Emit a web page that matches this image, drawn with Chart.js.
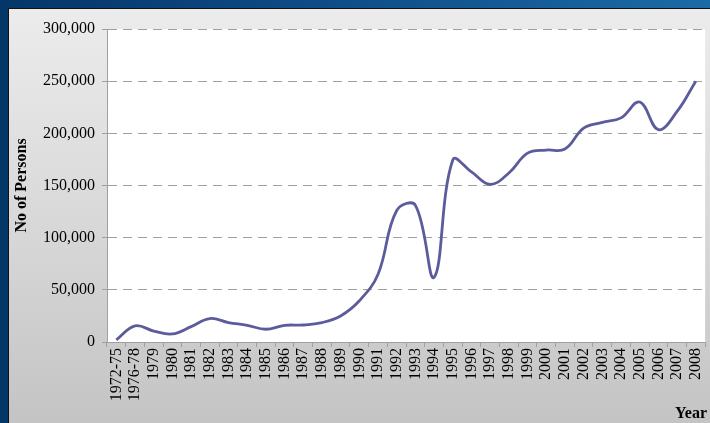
<!DOCTYPE html>
<html>
<head>
<meta charset="utf-8">
<script src="https://cdn.jsdelivr.net/npm/chart.js@4.4.1/dist/chart.umd.min.js"></script>
<style>
  html, body { margin: 0; padding: 0; }
  body {
    width: 710px; height: 423px; overflow: hidden; position: relative;
    background: linear-gradient(to right, #053668 0%, #0f4c86 45%, #1b6ba6 100%);
  }
  #panel {
    position: absolute; left: 8px; top: 8px; width: 720px; height: 430px;
    border-left: 1px solid #111; border-top: 1px solid #111;
    background: linear-gradient(to bottom, #ececec 0%, #d6d6d6 55%, #c2c2c2 100%);
  }
  #chartBox { position: absolute; left: 0; top: 0; width: 716px; height: 423px; }
</style>
</head>
<body>
<div id="panel"></div>
<div id="chartBox"><canvas id="personsChart" width="716" height="423"></canvas></div>
<script>
// Categories (x axis) and number of persons per year
const years = ['1972-75', '1976-78', '1979', '1980', '1981', '1982', '1983', '1984',
    '1985', '1986', '1987', '1988', '1989', '1990', '1991', '1992', '1993', '1994',
    '1995', '1996', '1997', '1998', '1999', '2000', '2001', '2002', '2003', '2004',
    '2005', '2006', '2007', '2008'];
const persons = [2000, 15500, 10500, 7700, 14700, 22500, 18600, 16000,
    12200, 16000, 16300, 18600, 25000, 39500, 65000, 126000, 131000, 62000,
    174500, 163000, 151000, 162000, 181000, 184000, 185000, 205000, 210500, 214800,
    230000, 203500, 221000, 250000];

// y axis ticks
const yMin = 0;
const yMax = 300000;
const yStep = 50000;

const serif = "'Liberation Serif', 'Times New Roman', serif";

// white plot area behind the grid
const plotBackground = {
    id: 'plotBackground',
    beforeDraw(chart) {
        const { ctx: c, chartArea: a } = chart;
        c.save();
        c.fillStyle = '#ffffff';
        c.fillRect(a.left, a.top, a.right - a.left, a.bottom - a.top);
        c.restore();
    }
};

// "Year" caption sits at the bottom right corner
const yearLabel = {
    id: 'yearLabel',
    afterDraw(chart) {
        const c = chart.ctx;
        c.save();
        c.font = 'bold 16px ' + serif;
        c.fillStyle = '#000';
        c.textAlign = 'right';
        c.textBaseline = 'alphabetic';
        c.fillText('Year', 707, 418);
        c.restore();
    }
};

const ctx = document.getElementById('personsChart').getContext('2d');

const personsChart = new Chart(ctx, {
    type: 'line',
    data: {
        labels: years,
        datasets: [
            {
                label: 'No of Persons',
                data: persons,
                borderColor: '#5c5c9c',
                borderWidth: 2.8,
                tension: 0.4,
                pointRadius: 0,
                fill: false
            }
        ]
    },
    options: {
        responsive: false,
        animation: false,
        devicePixelRatio: 1,
        layout: { padding: { top: 29, left: 0, right: 0, bottom: 0 } },
        plugins: {
            legend: { display: false },
            tooltip: { enabled: false }
        },
        scales: {
            x: {
                type: 'category',
                offset: true,
                afterFit: (scale) => { scale.height = 81; },
                grid: {
                    offset: true,
                    drawOnChartArea: false,
                    drawTicks: true,
                    tickLength: 5,
                    color: '#a0a0a0'
                },
                border: { color: '#a0a0a0', width: 1 },
                ticks: {
                    autoSkip: false,
                    minRotation: 90,
                    maxRotation: 90,
                    padding: 1,
                    color: '#000',
                    font: { family: serif, size: 16 }
                }
            },
            y: {
                min: yMin,
                max: yMax,
                afterFit: (scale) => { scale.width = 107; },
                grid: {
                    color: '#a0a0a0',
                    tickLength: 5,
                    tickBorderDash: []
                },
                border: { color: '#a0a0a0', width: 1, dash: [9, 6] },
                ticks: {
                    stepSize: yStep,
                    padding: 7,
                    color: '#000',
                    font: { family: serif, size: 16 },
                    callback: (value) => value.toLocaleString('en-US')
                },
                title: {
                    display: true,
                    text: 'No of Persons',
                    color: '#000',
                    font: { family: serif, size: 16, weight: 'bold' },
                    padding: { top: 12, bottom: 0 }
                }
            }
        }
    },
    plugins: [plotBackground, yearLabel]
});
</script>
</body>
</html>
